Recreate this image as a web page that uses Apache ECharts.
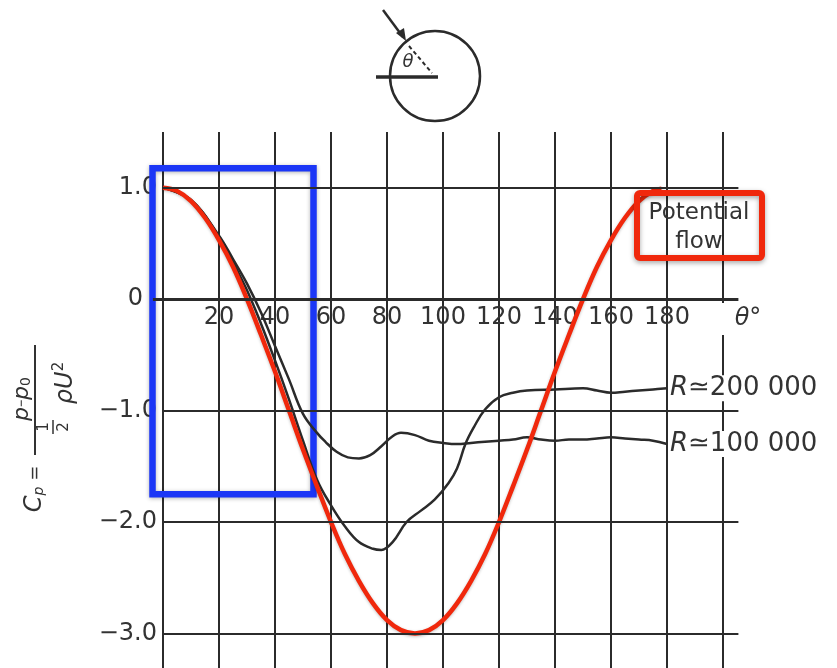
<!DOCTYPE html>
<html>
<head>
<meta charset="utf-8">
<script src="https://cdn.jsdelivr.net/npm/echarts@6/dist/echarts.min.js"></script>
<style>
  html, body { margin: 0; padding: 0; background: #fff; }
  #chart { width: 837px; height: 668px; }
</style>
</head>
<body>
<div id="chart"></div>
<script>
// Pressure coefficient round a cylinder
var potTheta = [0, 5, 10, 15, 20, 25, 30, 35, 40, 45, 50, 55, 60, 65, 70, 75, 80, 85, 90,
  95, 100, 105, 110, 115, 120, 125, 130, 135, 140, 145, 150, 155, 160, 165, 170, 175, 178];
var potCp = [1.00, 0.97, 0.88, 0.73, 0.53, 0.29, 0.00, -0.32, -0.65, -1.00, -1.35, -1.68, -2.00, -2.29, -2.53, -2.73, -2.88, -2.97, -3.00,
  -2.97, -2.88, -2.73, -2.53, -2.29, -2.00, -1.68, -1.35, -1.00, -0.65, -0.32, 0.00, 0.29, 0.53, 0.73, 0.88, 0.97, 0.99];

var r200Theta = [0, 10, 20, 25, 30, 35, 40, 45, 50, 55, 60, 65, 70, 75, 78, 82, 87, 92, 97, 102, 105, 108, 111, 115, 120, 125, 130, 140, 150, 155, 160, 165, 170, 175, 180];
var r200Cp = [1.00, 0.89, 0.56, 0.33, 0.08, -0.22, -0.55, -0.90, -1.27, -1.62, -1.85, -2.04, -2.18, -2.24, -2.25, -2.18, -2.00, -1.90, -1.80, -1.65, -1.52, -1.30, -1.15, -0.99, -0.88, -0.84, -0.82, -0.81, -0.80, -0.82, -0.84, -0.83, -0.82, -0.81, -0.80];

var r100Theta = [0, 10, 20, 25, 30, 35, 40, 45, 50, 55, 58, 62, 66, 70, 74, 78, 82, 85, 90, 95, 100, 105, 110, 115, 120, 125, 130, 135, 140, 145, 150, 155, 160, 165, 170, 175, 180];
var r100Cp = [1.00, 0.89, 0.57, 0.36, 0.14, -0.12, -0.42, -0.72, -1.03, -1.20, -1.28, -1.37, -1.42, -1.43, -1.40, -1.32, -1.23, -1.20, -1.22, -1.27, -1.29, -1.30, -1.29, -1.28, -1.27, -1.26, -1.24, -1.26, -1.27, -1.26, -1.26, -1.25, -1.24, -1.25, -1.26, -1.27, -1.30];

var xGrid = [0, 20, 40, 60, 80, 100, 120, 140, 160, 180, 200];
var xLabelVals = [20, 40, 60, 80, 100, 120, 140, 160, 180];
var xLabels = ['20', '40', '60', '80', '100', '120', '140', '160', '180'];
var yGrid = [-3, -2, -1, 0, 1];
var yLabels = ['−3.0', '−2.0', '−1.0', '0', '1.0'];

// region highlighted in blue: [θ left, Cp top, θ right, Cp bottom]
var blueBox = [-3.75, 1.175, 53.75, -1.75];
// horizontal rules run from θ = 0 to here; the Cp = 0 one starts a bit left of θ = 0
var ruleEnd = 205.5;
var baselineStart = -3.6;

var ink = '#2b2b2b';
var txt = '#333';
var font = 'DejaVu Sans, sans-serif';

function pairs(xs, ys) {
  return xs.map(function(x, i) { return [x, ys[i]]; });
}

function endLabel(text) {
  return {
    show: true,
    distance: 3,
    formatter: '{r|R}' + text,
    color: txt,
    fontSize: 26,
    fontFamily: font,
    backgroundColor: '#fff',
    rich: { r: { fontStyle: 'italic', fontSize: 26, fontFamily: font, color: txt } }
  };
}

var rules = yGrid.map(function(v) {
  return [
    { xAxis: v === 0 ? baselineStart : 0, yAxis: v, lineStyle: { width: v === 0 ? 3 : 2 } },
    { xAxis: ruleEnd, yAxis: v }
  ];
});

var chart = echarts.init(document.getElementById('chart'), null, { renderer: 'canvas' });
chart.setOption({
  animation: false,
  grid: [
    { left: 151.8, top: 132, width: 586.6, bottom: 0, outerBoundsMode: 'none' },
    // only carries the θ labels, its bottom edge sits on Cp = 0
    { left: 151.8, top: 132, width: 586.6, height: 168, outerBoundsMode: 'none' }
  ],
  xAxis: [
    {
      type: 'value',
      min: -4,
      max: 205.5,
      axisLine: { show: false },
      axisTick: { show: false, customValues: xGrid },
      axisLabel: { show: false },
      splitLine: { show: true, lineStyle: { color: ink, width: 2 } }
    },
    {
      type: 'value',
      gridIndex: 1,
      min: -4,
      max: 205.5,
      axisLine: { show: false },
      axisTick: { show: false, customValues: xLabelVals },
      splitLine: { show: false },
      axisLabel: {
        customValues: xLabelVals,
        margin: 6,
        color: txt,
        fontSize: 24,
        fontFamily: font,
        formatter: function(v) { return xLabels[xLabelVals.indexOf(v)]; }
      }
    }
  ],
  yAxis: [
    {
      type: 'value',
      min: -3.31,
      max: 1.5,
      axisLine: { show: false },
      axisTick: { show: false, customValues: yGrid },
      axisLabel: {
        customValues: yGrid,
        margin: -5.2,
        color: txt,
        fontSize: 24,
        fontFamily: font,
        formatter: function(v) {
          var s = yLabels[yGrid.indexOf(v)];
          return v === 0 ? '{z|' + s + '}' : s;
        },
        rich: { z: { fontSize: 24, fontFamily: font, color: txt, padding: [0, 14, 0, 0] } }
      },
      splitLine: { show: false }
    },
    { type: 'value', gridIndex: 1, show: false, min: 0, max: 1 }
  ],
  series: [
    {
      type: 'line',
      data: [],
      z: 1,
      silent: true,
      markLine: {
        silent: true,
        symbol: ['none', 'none'],
        label: { show: false },
        lineStyle: { color: ink, width: 2, type: 'solid' },
        data: rules
      }
    },
    {
      name: 'R≃200 000',
      type: 'line',
      data: pairs(r200Theta, r200Cp),
      smooth: 0.4,
      symbol: 'none',
      z: 2,
      lineStyle: { color: ink, width: 2.5 },
      endLabel: endLabel('≃200 000')
    },
    {
      name: 'R≃100 000',
      type: 'line',
      data: pairs(r100Theta, r100Cp),
      smooth: 0.4,
      symbol: 'none',
      z: 2,
      lineStyle: { color: ink, width: 2.5 },
      endLabel: endLabel('≃100 000')
    },
    {
      name: 'Potential flow',
      type: 'line',
      data: pairs(potTheta, potCp),
      smooth: 0.4,
      symbol: 'none',
      z: 3,
      lineStyle: { color: '#f0280c', width: 4.5, shadowBlur: 3, shadowColor: 'rgba(0,0,0,0.25)', shadowOffsetY: 1 }
    },
    {
      type: 'line',
      data: [],
      z: 5,
      clip: false,
      silent: true,
      markArea: {
        silent: true,
        itemStyle: {
          color: 'rgba(0,0,0,0)',
          borderColor: '#1b36f6',
          borderWidth: 6.5,
          shadowBlur: 4,
          shadowColor: 'rgba(0,0,0,0.3)',
          shadowOffsetY: 1
        },
        data: [[{ xAxis: blueBox[0], yAxis: blueBox[1] }, { xAxis: blueBox[2], yAxis: blueBox[3] }]]
      }
    }
  ],
  graphic: [
    // θ° sits on the 200° rule and breaks it
    {
      type: 'text', z: 10, x: 742, y: 319,
      style: { text: 'θ°', font: 'italic 24px DejaVu Sans', fill: txt, align: 'center', verticalAlign: 'middle',
        backgroundColor: '#fff', padding: [4, 2, 4, 14] }
    },
    // "Potential flow" callout
    {
      type: 'rect', z: 20,
      shape: { x: 637, y: 193, width: 125, height: 65, r: 3 },
      style: { fill: 'none', stroke: '#f0280c', lineWidth: 6, shadowBlur: 5, shadowColor: 'rgba(0,0,0,0.35)', shadowOffsetY: 2 }
    },
    {
      type: 'text', z: 21, x: 699, y: 213,
      style: { text: 'Potential', fill: txt, font: '23px DejaVu Sans', align: 'center', verticalAlign: 'middle' }
    },
    {
      type: 'text', z: 21, x: 699, y: 242,
      style: { text: 'flow', fill: txt, font: '23px DejaVu Sans', align: 'center', verticalAlign: 'middle' }
    },
    // y axis title, written along the axis and turned a quarter turn
    {
      type: 'group', x: 35, y: 427, rotation: Math.PI / 2,
      children: [
        { type: 'text', x: -62, y: 0, style: { text: '{i|C}{s|p}{n| =}', align: 'center', verticalAlign: 'middle',
          rich: { i: { font: 'italic 24px DejaVu Sans', fill: txt }, s: { font: 'italic 14px DejaVu Sans', fill: txt, padding: [8, 0, 0, 0] }, n: { font: '18px DejaVu Sans', fill: txt } } } },
        { type: 'line', shape: { x1: -28, y1: 0, x2: 82, y2: 0 }, style: { stroke: txt, lineWidth: 2 } },
        { type: 'text', x: 28, y: -13, style: { text: '{i|p}−{i|p}{s|0}', align: 'center', verticalAlign: 'middle',
          rich: { i: { font: 'italic 22px DejaVu Sans', fill: txt }, s: { font: '14px DejaVu Sans', fill: txt, padding: [8, 0, 0, 0] } } } },
        { type: 'text', x: 0, y: 9, style: { text: '1', font: '15px DejaVu Sans', fill: txt, align: 'center', verticalAlign: 'middle' } },
        { type: 'line', shape: { x1: -7, y1: 18, x2: 7, y2: 18 }, style: { stroke: txt, lineWidth: 1.5 } },
        { type: 'text', x: 0, y: 29, style: { text: '2', font: '15px DejaVu Sans', fill: txt, align: 'center', verticalAlign: 'middle' } },
        { type: 'text', x: 44, y: 31, style: { text: '{i|ρU}{s|2}', align: 'center', verticalAlign: 'middle',
          rich: { i: { font: 'italic 24px DejaVu Sans', fill: txt }, s: { font: '15px DejaVu Sans', fill: txt, padding: [0, 0, 14, 0] } } } }
      ]
    },
    // cylinder sketch
    { type: 'circle', shape: { cx: 435, cy: 76, r: 45 }, style: { fill: 'none', stroke: ink, lineWidth: 2.5 } },
    { type: 'line', shape: { x1: 376, y1: 77, x2: 438, y2: 77 }, style: { stroke: ink, lineWidth: 3.5 } },
    { type: 'line', shape: { x1: 383, y1: 10, x2: 403, y2: 37 }, style: { stroke: ink, lineWidth: 2.5 } },
    { type: 'polygon', shape: { points: [[406, 41], [396, 33], [404, 28]] }, style: { fill: ink } },
    { type: 'line', shape: { x1: 409, y1: 46, x2: 432, y2: 73 }, style: { stroke: ink, lineWidth: 2, lineDash: [4, 3] } },
    { type: 'text', x: 408, y: 62, style: { text: 'θ', font: 'italic 18px DejaVu Sans', fill: txt, align: 'center', verticalAlign: 'middle' } }
  ]
});
window.addEventListener('resize', function() { chart.resize(); });
</script>
</body>
</html>
